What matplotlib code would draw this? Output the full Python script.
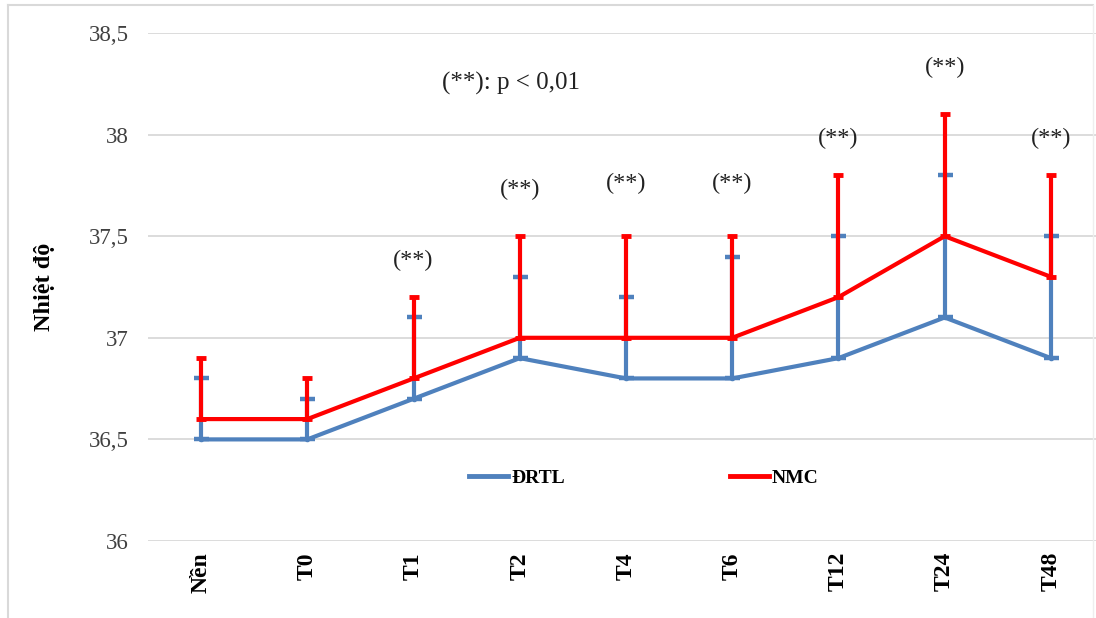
import matplotlib
matplotlib.use("Agg")
import matplotlib.pyplot as plt
from matplotlib.lines import Line2D

# Time points and mean body temperature (with upper SD) per group
categories = ["Nền", "T0", "T1", "T2", "T4", "T6", "T12", "T24", "T48"]
drtl_mean = [36.5, 36.5, 36.7, 36.9, 36.8, 36.8, 36.9, 37.1, 36.9]
drtl_upper = [36.8, 36.7, 37.1, 37.3, 37.2, 37.4, 37.5, 37.8, 37.5]
nmc_mean = [36.6, 36.6, 36.8, 37.0, 37.0, 37.0, 37.2, 37.5, 37.3]
nmc_upper = [36.9, 36.8, 37.2, 37.5, 37.5, 37.5, 37.8, 38.1, 37.8]
sig_labels = ["", "", "(**)", "(**)", "(**)", "(**)", "(**)", "(**)", "(**)"]
sig_label_y = [None, None, 37.38, 37.73, 37.76, 37.76, 37.98, 38.33, 37.98]
y_ticks = [36.0, 36.5, 37.0, 37.5, 38.0, 38.5]
y_tick_labels = ["36", "36,5", "37", "37,5", "38", "38,5"]

BLUE = "#4F81BD"
RED = "#FF0000"
SERIF = "Liberation Serif"

fig = plt.figure(figsize=(10.96, 6.18), dpi=100)
ax = fig.add_axes([148 / 1096, 1 - 541 / 618, (1104 - 148) / 1096, (541 - 33) / 618])

x = list(range(len(categories)))

# ĐRTL series with upper error bars
ax.plot(x, drtl_mean, color=BLUE, lw=3, zorder=3,
        marker="o", ms=3, mfc=BLUE, mec=BLUE)
drtl_err = [[0] * len(x), [u - m for u, m in zip(drtl_upper, drtl_mean)]]
_, caps, _ = ax.errorbar(x, drtl_mean, yerr=drtl_err, fmt="none", ecolor=BLUE,
                         elinewidth=3, capsize=5.4, capthick=3.2, zorder=3)

# NMC series with upper error bars
ax.plot(x, nmc_mean, color=RED, lw=3, zorder=4,
        marker="o", ms=3, mfc="#B0706A", mec="#B0706A")
nmc_err = [[0] * len(x), [u - m for u, m in zip(nmc_upper, nmc_mean)]]
ax.errorbar(x, nmc_mean, yerr=nmc_err, fmt="none", ecolor=RED,
            elinewidth=3, capsize=3.6, capthick=3.5, zorder=4)

# Significance markers
for xi, lab, ly in zip(x, sig_labels, sig_label_y):
    if lab:
        ax.text(xi, ly, lab, ha="center", va="center", fontsize=17.5,
                family=SERIF, color="#222222")

ax.text(2.92, 38.25, "(**): p < 0,01", ha="center", va="center",
        fontsize=18, family=SERIF, color="#222222")

ax.set_xlim(-0.5, len(categories) - 0.5)
ax.set_ylim(36, 38.5)
ax.set_yticks(y_ticks)
ax.set_yticklabels(y_tick_labels, family=SERIF, fontsize=16.5, color="#404040")
ax.set_xticks(x)
ax.set_xticklabels(categories, family=SERIF, fontsize=17, fontweight="bold",
                   rotation=90, color="black")
ax.tick_params(axis="both", length=0)
ax.tick_params(axis="y", pad=14)
ax.tick_params(axis="x", pad=8)
ax.grid(axis="y", color="#D9D9D9", lw=1.3)
ax.set_axisbelow(True)
for s in ax.spines.values():
    s.set_visible(False)

ax.set_ylabel("Nhiệt độ", family=SERIF, fontsize=17.5, fontweight="bold",
              labelpad=24)

handles = [Line2D([], [], color=BLUE, lw=3.5), Line2D([], [], color=RED, lw=3.5)]
leg = ax.legend(handles, ["ĐRTL", "NMC"], loc="center",
                bbox_to_anchor=(644 / 1096, 1 - 478 / 618),
                bbox_transform=fig.transFigure, ncol=2, frameon=False,
                handlelength=2.0, handletextpad=0.15, columnspacing=8.5,
                prop={"family": SERIF, "size": 14, "weight": "bold"})

# Light chart frame
fig.add_artist(Line2D([8 / 1096, 8 / 1096], [0, 1 - 5 / 618], color="#D9D9D9",
                      lw=1.5, transform=fig.transFigure))
fig.add_artist(Line2D([8 / 1096, 1093 / 1096], [1 - 5 / 618, 1 - 5 / 618],
                      color="#D9D9D9", lw=1.5, transform=fig.transFigure))
fig.add_artist(Line2D([1093 / 1096, 1093 / 1096], [0, 1 - 5 / 618], color="#EEEEEE",
                      lw=1, transform=fig.transFigure))

fig.savefig("out.png", dpi=100)
